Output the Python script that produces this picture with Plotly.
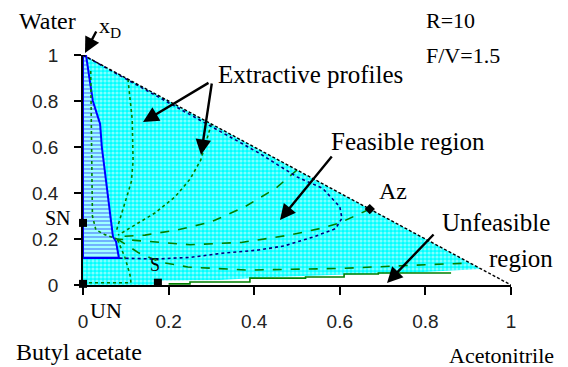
import plotly.graph_objects as go

# ---------------- data (mole fractions: x = acetonitrile, y = water) ----------------
tick_vals = [0, 0.2, 0.4, 0.6, 0.8, 1]
tick_text = ["0", "0.2", "0.4", "0.6", "0.8", "1"]

edge_x = [0, 1]
edge_y = [1, 0]

feasible_x = [0, 0, 0.93, 0.75, 0.6, 0.45, 0.32, 0.185, 0.175, 0]
feasible_y = [0, 1, 0.07, 0.052, 0.045, 0.035, 0.022, 0.02, 0, 0]

stable_x = [0, 0.007, 0.023, 0.04, 0.044, 0.058, 0.07, 0.077, 0.084, 0, 0]
stable_y = [1, 1, 0.8, 0.7, 0.6, 0.4, 0.21, 0.19, 0.117, 0.117, 1]

prof1_x = [0.018, 0.02, 0.022, 0.03, 0.05, 0.08]
prof1_y = [0.93, 0.6, 0.3, 0.24, 0.22, 0.2]
prof2_x = [0.105, 0.115, 0.117, 0.113, 0.105, 0.089, 0.077]
prof2_y = [0.895, 0.72, 0.54, 0.45, 0.4, 0.3, 0.23]
prof3_x = [0.3, 0.285, 0.275, 0.25, 0.215, 0.168, 0.112, 0.082]
prof3_y = [0.7, 0.6, 0.543, 0.46, 0.383, 0.313, 0.252, 0.217]
prof4_x = [0.5, 0.45, 0.378, 0.299, 0.222, 0.145, 0.082]
prof4_y = [0.5, 0.42, 0.34, 0.274, 0.24, 0.217, 0.21]
prof5_x = [0.67, 0.6, 0.56, 0.483, 0.37, 0.25, 0.15, 0.08]
prof5_y = [0.33, 0.27, 0.248, 0.217, 0.185, 0.175, 0.19, 0.2]
prof6_x = [0.08, 0.13, 0.18, 0.245, 0.385, 0.6, 0.8, 0.9]
prof6_y = [0.2, 0.14, 0.1, 0.078, 0.065, 0.072, 0.088, 0.095]
prof7_x = [0.2, 0.25, 0.39, 0.52, 0.61, 0.69, 0.86]
prof7_y = [0.005, 0.013, 0.03, 0.035, 0.048, 0.052, 0.052]
prof8_x = [0.0, 0.112, 0.11, 0.098, 0.08]
prof8_y = [0.01, 0.01, 0.043, 0.12, 0.2]

boundary_x = [0, 0.28, 0.41, 0.5, 0.56, 0.6, 0.605, 0.59, 0.54, 0.47, 0.41, 0.33, 0.25, 0.17, 0.084]
boundary_y = [1, 0.71, 0.575, 0.47, 0.42, 0.34, 0.29, 0.245, 0.21, 0.17, 0.152, 0.139, 0.12, 0.113, 0.117]

point_names = ["UN", "SN", "S"]
point_x = [0, 0, 0.175]
point_y = [0.005, 0.27, 0.01]
az_x = [0.67]
az_y = [0.33]

# ---------------- figure ----------------
GREEN = "#008000"
NAVY = "#000080"
SERIF = "Liberation Serif, Times New Roman, serif"
SANS = "Liberation Sans, Arial, sans-serif"

fig = go.Figure()

fig.add_trace(go.Scatter(
    x=feasible_x, y=feasible_y, mode="lines", fill="toself",
    line=dict(width=0, color="#00ffff"),
    fillcolor="#40ffff",
    fillpattern=dict(shape=".", bgcolor="#00ffff", fgcolor="white", size=4, solidity=0.5),
    hoverinfo="skip"))

fig.add_trace(go.Scatter(
    x=stable_x, y=stable_y, mode="lines", fill="toself",
    line=dict(width=2, color="#0000ff"),
    fillcolor="#80ffff",
    fillpattern=dict(shape="-", bgcolor="#a0ffff", fgcolor="#0000ff", size=4, solidity=0.3),
    hoverinfo="skip"))

for px_, py_, dash in [(prof1_x, prof1_y, "dot"), (prof2_x, prof2_y, "dot"),
                       (prof3_x, prof3_y, "dot"), (prof4_x, prof4_y, "dash"),
                       (prof5_x, prof5_y, "dash"), (prof6_x, prof6_y, "dash"),
                       (prof8_x, prof8_y, "dot")]:
    fig.add_trace(go.Scatter(x=px_, y=py_, mode="lines",
                             line=dict(color=GREEN, width=1.6, dash=dash), hoverinfo="skip"))

fig.add_trace(go.Scatter(x=prof7_x, y=prof7_y, mode="lines", line_shape="hv",
                         line=dict(color=GREEN, width=1.6), hoverinfo="skip"))

fig.add_trace(go.Scatter(x=boundary_x, y=boundary_y, mode="lines",
                         line=dict(color=NAVY, width=1.6, dash="dot"), hoverinfo="skip"))

fig.add_trace(go.Scatter(x=edge_x, y=edge_y, mode="lines",
                         line=dict(color="black", width=1.4, dash="3px,2px"), hoverinfo="skip"))

fig.add_trace(go.Scatter(x=point_x, y=point_y, mode="markers", cliponaxis=False,
                         marker=dict(symbol="square", size=8, color="black"), hoverinfo="skip"))
fig.add_trace(go.Scatter(x=az_x, y=az_y, mode="markers", cliponaxis=False,
                         marker=dict(symbol="diamond", size=8, color="black"), hoverinfo="skip"))

# screen-pixel helpers (plot area spans 83..511 horizontally, 55..285 vertically)
def px2x(p):
    return (p - 83) / 428.0

def py2y(p):
    return (285 - p) / 230.0

ann = []

def label(text, px, py, anchor="left", size=25, family=SERIF):
    ann.append(dict(text=text, x=px2x(px), y=py2y(py), xref="paper", yref="paper",
                    xanchor=anchor, yanchor="middle", showarrow=False,
                    font=dict(family=family, size=size, color="black")))

label("Water", 17, 21, size=24)
label("x<sub>D</sub>", 97, 27, size=22)
label("R=10", 424, 21, size=22)
label("F/V=1.5", 424, 55, size=22)
label("Extractive profiles", 216, 74)
label("Feasible region", 329, 141)
label("Az", 377, 191, size=24)
label("Unfeasible", 440, 222)
label("region", 487, 258)
label("Acetonitrile", 556, 355, anchor="right", size=22)
label("Butyl acetate", 14, 352, size=24)
label("SN", 73, 218, anchor="right", size=20)
label("UN", 88, 310, size=22)
label("S", 148, 265, size=18)

def arrow2(tx, ty, hx, hy):
    ann.append(dict(x=px2x(hx), y=py2y(hy), ax=tx - hx, ay=ty - hy,
                    xref="paper", yref="paper", text="",
                    showarrow=True, arrowhead=2, arrowsize=1.3, arrowwidth=2.4,
                    arrowcolor="black"))

arrow2(97, 30, 85, 53)
arrow2(210, 82, 143, 122)
arrow2(212, 82, 201, 155)
arrow2(333, 155, 280, 220)
arrow2(435, 233, 387, 283)

# the page body has an 8px margin, so the figure is 8px smaller and its margins shifted
fig.update_layout(
    width=560, height=359,
    margin=dict(l=75, r=57, t=47, b=82),
    plot_bgcolor="white", paper_bgcolor="white",
    showlegend=False, annotations=ann,
    xaxis=dict(range=[0, 1], tickvals=tick_vals, ticktext=tick_text, showgrid=False,
               zeroline=False, showline=True, linecolor="black", linewidth=1.5,
               ticks="outside", ticklen=8, tickwidth=1.5, tickcolor="black",
               ticklabelstandoff=10, tickfont=dict(family=SANS, size=19, color="#222")),
    yaxis=dict(range=[0, 1], tickvals=tick_vals, ticktext=tick_text, showgrid=False,
               zeroline=False, showline=True, linecolor="black", linewidth=1.5,
               ticks="outside", ticklen=7, tickwidth=1.5, tickcolor="black",
               ticklabelstandoff=12, tickfont=dict(family=SANS, size=19, color="#222")),
)

fig.write_html("out.html")
